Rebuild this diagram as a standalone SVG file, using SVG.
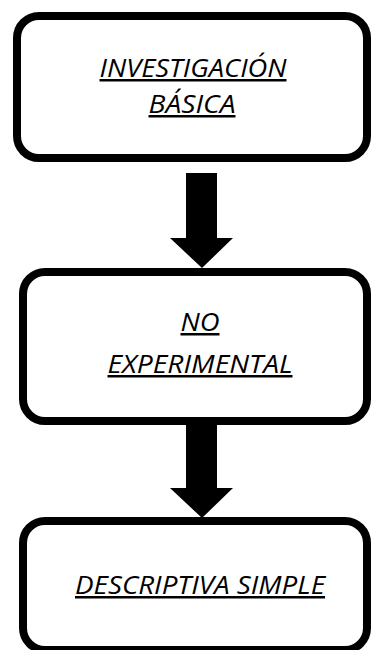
<svg xmlns="http://www.w3.org/2000/svg" width="371" height="650" viewBox="0 0 371 650">
<style>
.box{fill:#fff;stroke:#000;stroke-width:8}
.lbl{font-family:"Open Sans","Liberation Sans",sans-serif;font-style:italic;font-size:25px;fill:#000;text-anchor:middle;text-decoration:underline}
.arr{fill:#000}
</style>
<rect width="371" height="650" fill="#fff"/>
<g id="connectors">
<path class="arr" d="M186,173 H217 V238 H233 L202,268 L170,238 H186 Z"/>
<path class="arr" d="M186,424 H217 V488 H233 L202,518 L170,488 H186 Z"/>
</g>
<g id="node1">
<rect class="box" x="17" y="16" width="350" height="142" rx="22"/>
<text class="lbl" x="193" y="77" textLength="187" lengthAdjust="spacingAndGlyphs">INVESTIGACIÓN</text>
<text class="lbl" x="192" y="113" textLength="87" lengthAdjust="spacingAndGlyphs">BÁSICA</text>
</g>
<g id="node2">
<rect class="box" x="23" y="272" width="344" height="149" rx="22"/>
<text class="lbl" x="200" y="331" textLength="39" lengthAdjust="spacingAndGlyphs">NO</text>
<text class="lbl" x="200" y="373" textLength="185" lengthAdjust="spacingAndGlyphs">EXPERIMENTAL</text>
</g>
<g id="node3">
<rect class="box" x="23" y="521" width="344" height="129" rx="22"/>
<text class="lbl" x="200" y="594" textLength="250" lengthAdjust="spacingAndGlyphs">DESCRIPTIVA SIMPLE</text>
</g>
</svg>
